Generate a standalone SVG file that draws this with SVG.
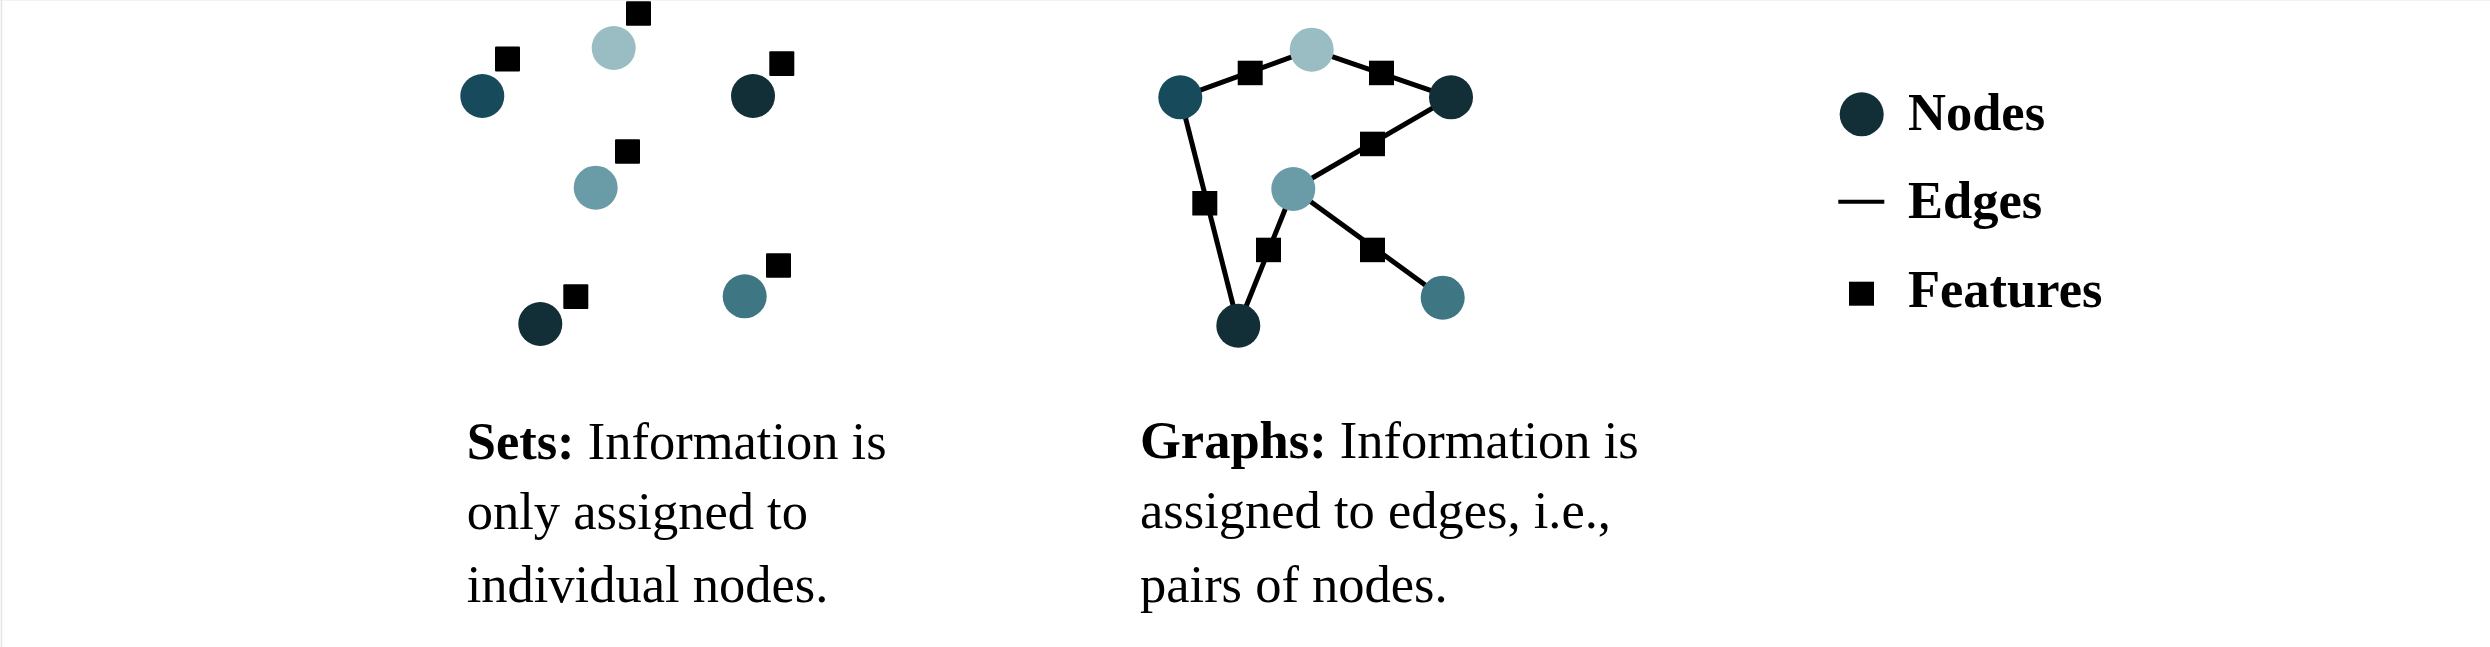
<svg xmlns="http://www.w3.org/2000/svg" width="2490" height="647" viewBox="0 0 2490 647">
<style>
.c1{fill:#174a5a}.c2{fill:#9abcc3}.c3{fill:#122e36}.c4{fill:#6a9ca8}.c5{fill:#3e7783}
.ft{fill:#000}
.edge{stroke:#000;stroke-width:5;fill:none}
.txt{font-family:"Liberation Serif","Times New Roman",serif;font-size:52.5px;fill:#000}
.b{font-weight:bold}
</style>
<rect width="2490" height="647" fill="#fff"/>
<line x1="0" y1="0.5" x2="2490" y2="0.5" stroke="#f3f3f7" stroke-width="1"/>
<line x1="1.5" y1="0" x2="1.5" y2="647" stroke="#e4e4e8" stroke-width="1.5"/>

<g id="sets">
  <g id="set-node-1"><circle class="c1" cx="482.3" cy="96" r="22"/><rect class="ft" x="495" y="46.5" width="25" height="25" rx="1"/></g>
  <g id="set-node-2"><circle class="c2" cx="613.7" cy="48" r="22"/><rect class="ft" x="626" y="1.3" width="25" height="24.5" rx="1"/></g>
  <g id="set-node-3"><circle class="c3" cx="753" cy="96" r="22"/><rect class="ft" x="769.3" y="51.3" width="25" height="24.7" rx="1"/></g>
  <g id="set-node-4"><circle class="c4" cx="595.7" cy="187.7" r="22"/><rect class="ft" x="615" y="139.3" width="25" height="24.5" rx="1"/></g>
  <g id="set-node-5"><circle class="c3" cx="540.3" cy="324" r="22"/><rect class="ft" x="563.3" y="284.3" width="25" height="24.7" rx="1"/></g>
  <g id="set-node-6"><circle class="c5" cx="744.7" cy="296.3" r="22"/><rect class="ft" x="766" y="253.3" width="25" height="24.5" rx="1"/></g>
</g>

<g id="connectors">
  <line class="edge" x1="1180.3" y1="97.3" x2="1311.7" y2="49.7"/>
  <line class="edge" x1="1311.7" y1="49.7" x2="1451" y2="97.3"/>
  <line class="edge" x1="1451" y1="97.3" x2="1293.3" y2="189"/>
  <line class="edge" x1="1180.3" y1="97.3" x2="1238.3" y2="325.7"/>
  <line class="edge" x1="1293.3" y1="189" x2="1238.3" y2="325.7"/>
  <line class="edge" x1="1293.3" y1="189" x2="1442.7" y2="297.7"/>
</g>

<g id="graph-features">
  <rect class="ft" x="1237.7" y="60.7" width="25" height="24.5"/>
  <rect class="ft" x="1369" y="60.7" width="25" height="24.5"/>
  <rect class="ft" x="1360" y="131.7" width="25" height="24.5"/>
  <rect class="ft" x="1192.3" y="191" width="25" height="24.5"/>
  <rect class="ft" x="1256" y="237.7" width="25" height="24.5"/>
  <rect class="ft" x="1360" y="237.7" width="25" height="24.5"/>
</g>

<g id="graph-nodes">
  <g id="graph-node-1"><circle class="c1" cx="1180.3" cy="97.3" r="22"/></g>
  <g id="graph-node-2"><circle class="c2" cx="1311.7" cy="49.7" r="22"/></g>
  <g id="graph-node-3"><circle class="c3" cx="1451" cy="97.3" r="22"/></g>
  <g id="graph-node-4"><circle class="c4" cx="1293.3" cy="189" r="22"/></g>
  <g id="graph-node-5"><circle class="c3" cx="1238.3" cy="325.7" r="22"/></g>
  <g id="graph-node-6"><circle class="c5" cx="1442.7" cy="297.7" r="22"/></g>
</g>

<g id="legend">
  <g id="legend-nodes"><circle class="c3" cx="1861.7" cy="114.3" r="22"/><text class="txt b" x="1908" y="130">Nodes</text></g>
  <g id="legend-edges"><line x1="1838.3" y1="201.7" x2="1884.3" y2="201.7" stroke="#000" stroke-width="4"/><text class="txt b" x="1908" y="218.3">Edges</text></g>
  <g id="legend-features"><rect class="ft" x="1849" y="281.7" width="25" height="24"/><text class="txt b" x="1908" y="306.7">Features</text></g>
</g>

<g id="caption-sets">
  <text class="txt" x="466.7" y="459.3"><tspan class="b">Sets:</tspan> Information is</text>
  <text class="txt" x="466.7" y="529.3">only assigned to</text>
  <text class="txt" x="466.7" y="601.7">individual nodes.</text>
</g>
<g id="caption-graphs">
  <text class="txt" x="1140" y="458.3"><tspan class="b">Graphs:</tspan> Information is</text>
  <text class="txt" x="1140" y="528.3">assigned to edges, i.e.,</text>
  <text class="txt" x="1140" y="601.7">pairs of nodes.</text>
</g>
</svg>
